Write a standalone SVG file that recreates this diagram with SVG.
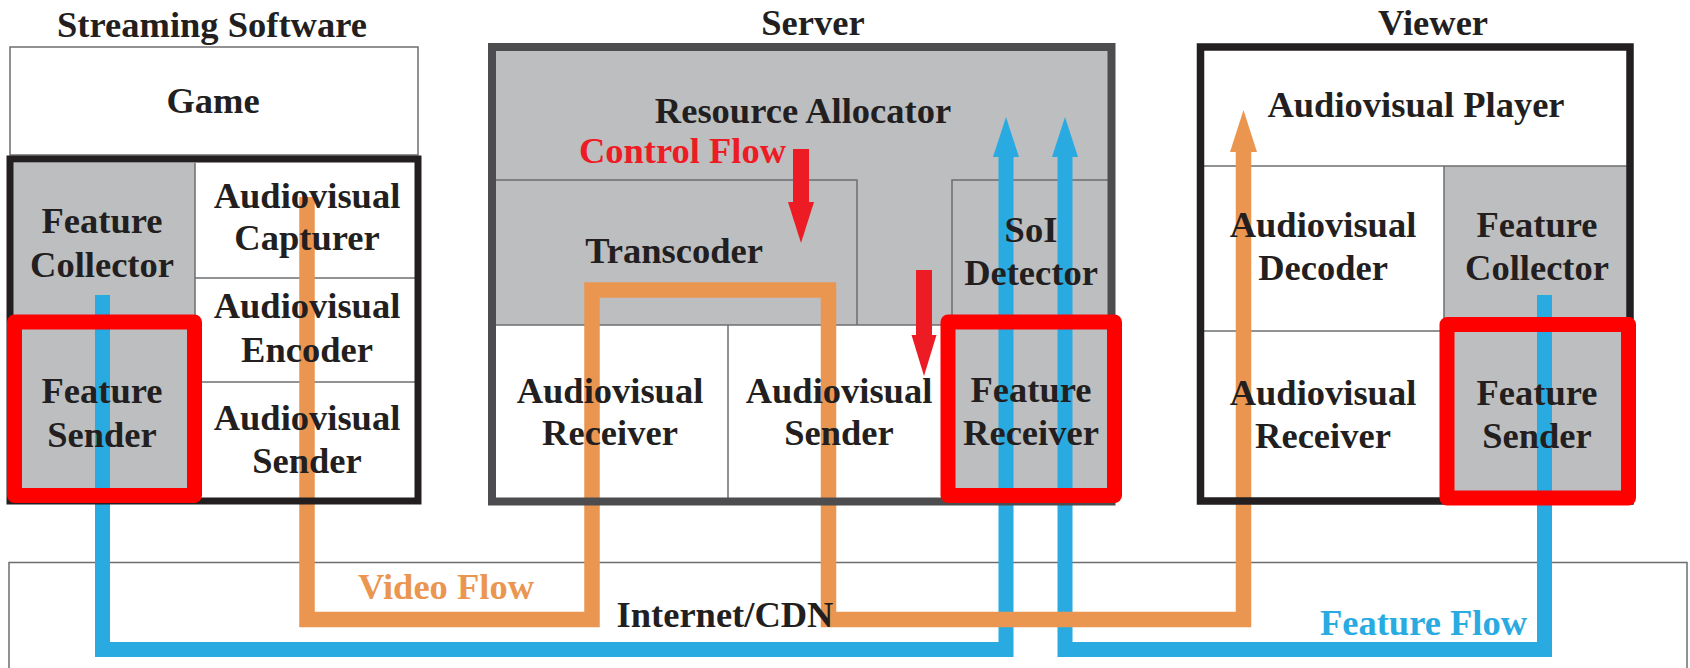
<svg xmlns="http://www.w3.org/2000/svg" width="1690" height="668" viewBox="0 0 1690 668">
<defs>
<style>
.t{font-family:"Liberation Serif","Times New Roman",serif;font-weight:bold;font-size:36.5px;fill:#231F20;text-anchor:middle}
.thin{fill:none;stroke:#6D6E71;stroke-width:1.5}
.gray{fill:#BCBEC0}
.red{fill:none;stroke:#FF0000;stroke-width:15;stroke-linejoin:round}
.blue{fill:none;stroke:#29ABE2;stroke-width:15}
.orange{fill:none;stroke:#EB9650;stroke-width:15.5}
</style>
</defs>
<rect width="1690" height="668" fill="#fff"/>

<!-- Internet/CDN -->
<g id="internet">
<rect x="9" y="562.5" width="1678" height="120" fill="#fff" stroke="#6D6E71" stroke-width="1.5"/>
</g>

<!-- Streaming software backgrounds -->
<g id="streaming-bg">
<rect x="10" y="47" width="408" height="108" fill="#fff" stroke="#6D6E71" stroke-width="1.5"/>
<rect class="gray" x="12" y="163" width="183" height="336"/>
<rect x="195" y="163" width="221" height="336" fill="#fff"/>
<line class="thin" x1="195" y1="163" x2="195" y2="499"/>
<line class="thin" x1="195" y1="278" x2="416" y2="278"/>
<line class="thin" x1="195" y1="382" x2="416" y2="382"/>
</g>

<!-- Server backgrounds -->
<g id="server-bg">
<rect class="gray" x="496" y="51" width="612" height="274"/>
<rect x="496" y="325" width="452" height="173" fill="#fff"/>
<rect class="gray" x="948" y="325" width="160" height="173"/>
<path class="thin" d="M496,180 H857 V325"/>
<path class="thin" d="M1108,180 H952 V325"/>
<line class="thin" x1="496" y1="325" x2="948" y2="325"/>
<line class="thin" x1="728" y1="325" x2="728" y2="498"/>
</g>

<!-- Viewer backgrounds -->
<g id="viewer-bg">
<rect x="1204" y="51" width="423" height="447" fill="#fff"/>
<rect class="gray" x="1444" y="166" width="183" height="332"/>
<line class="thin" x1="1204" y1="166" x2="1627" y2="166"/>
<line class="thin" x1="1444" y1="166" x2="1444" y2="498"/>
<line class="thin" x1="1204" y1="331" x2="1444" y2="331"/>
</g>

<!-- Connectors -->
<g id="connectors">
<path class="blue" d="M102.5,295 V649.5 H1006 V155"/>
<polygon fill="#29ABE2" points="993,157 1019,157 1006,117"/>
<path class="blue" d="M1544.5,295 V649.5 H1065 V155"/>
<polygon fill="#29ABE2" points="1052,157 1078,157 1065,117"/>
<path class="orange" d="M307,197 V619.5 H592 V290 H828.5 V619.5 H1243.5 V150"/>
<polygon fill="#EB9650" points="1230,152 1257,152 1243.5,110"/>
<path d="M801,149 V204" stroke="#ED1C24" stroke-width="16" fill="none"/>
<polygon fill="#ED1C24" points="788,202 814,202 801,243"/>
<path d="M924,270 V337" stroke="#ED1C24" stroke-width="16" fill="none"/>
<polygon fill="#ED1C24" points="911.5,335 936.5,335 924,376"/>
</g>

<!-- Frames -->
<g id="frames">
<rect x="10" y="159" width="408" height="342" fill="none" stroke="#231F20" stroke-width="7"/>
<rect x="492" y="47" width="619.5" height="454.5" fill="none" stroke="#4D4D4F" stroke-width="8"/>
<rect x="1200.5" y="47" width="429.5" height="454" fill="none" stroke="#231F20" stroke-width="7.5"/>
<rect class="red" x="14.5" y="322" width="180" height="173.5"/>
<rect class="red" x="948" y="322" width="166.5" height="173.5"/>
<rect class="red" x="1447" y="324.5" width="181.5" height="173.5"/>
</g>

<!-- Titles -->
<g id="titles">
<text class="t" x="212" y="37">Streaming Software</text>
<text class="t" x="813" y="35">Server</text>
<text class="t" x="1433" y="35">Viewer</text>
</g>

<g id="game"><text class="t" x="213" y="113">Game</text></g>
<g id="ss-feature-collector"><text class="t" x="102" y="233">Feature</text><text class="t" x="102" y="277">Collector</text></g>
<g id="ss-feature-sender"><text class="t" x="102" y="403">Feature</text><text class="t" x="102" y="447">Sender</text></g>
<g id="ss-capturer"><text class="t" x="307" y="208">Audiovisual</text><text class="t" x="307" y="250">Capturer</text></g>
<g id="ss-encoder"><text class="t" x="307" y="318">Audiovisual</text><text class="t" x="307" y="362">Encoder</text></g>
<g id="ss-sender"><text class="t" x="307" y="430">Audiovisual</text><text class="t" x="307" y="473">Sender</text></g>

<g id="resource-allocator"><text class="t" x="803" y="123">Resource Allocator</text></g>
<g id="transcoder"><text class="t" x="674" y="263">Transcoder</text></g>
<g id="soi-detector"><text class="t" x="1031" y="242">SoI</text><text class="t" x="1031" y="285">Detector</text></g>
<g id="srv-receiver"><text class="t" x="610" y="403">Audiovisual</text><text class="t" x="610" y="445">Receiver</text></g>
<g id="srv-sender"><text class="t" x="839" y="403">Audiovisual</text><text class="t" x="839" y="445">Sender</text></g>
<g id="feature-receiver"><text class="t" x="1031" y="402">Feature</text><text class="t" x="1031" y="445">Receiver</text></g>

<g id="player"><text class="t" x="1416" y="117">Audiovisual Player</text></g>
<g id="decoder"><text class="t" x="1323" y="237">Audiovisual</text><text class="t" x="1323" y="280">Decoder</text></g>
<g id="v-receiver"><text class="t" x="1323" y="405">Audiovisual</text><text class="t" x="1323" y="448">Receiver</text></g>
<g id="v-feature-collector"><text class="t" x="1537" y="237">Feature</text><text class="t" x="1537" y="280">Collector</text></g>
<g id="v-feature-sender"><text class="t" x="1537" y="405">Feature</text><text class="t" x="1537" y="448">Sender</text></g>

<g id="labels">
<text class="t" x="682.5" y="163" style="fill:#ED1C24">Control Flow</text>
<text class="t" x="446" y="599" style="fill:#EB9650">Video Flow</text>
<text class="t" x="725" y="627">Internet/CDN</text>
<text class="t" x="1423.5" y="635" style="fill:#29ABE2">Feature Flow</text>
</g>
</svg>
